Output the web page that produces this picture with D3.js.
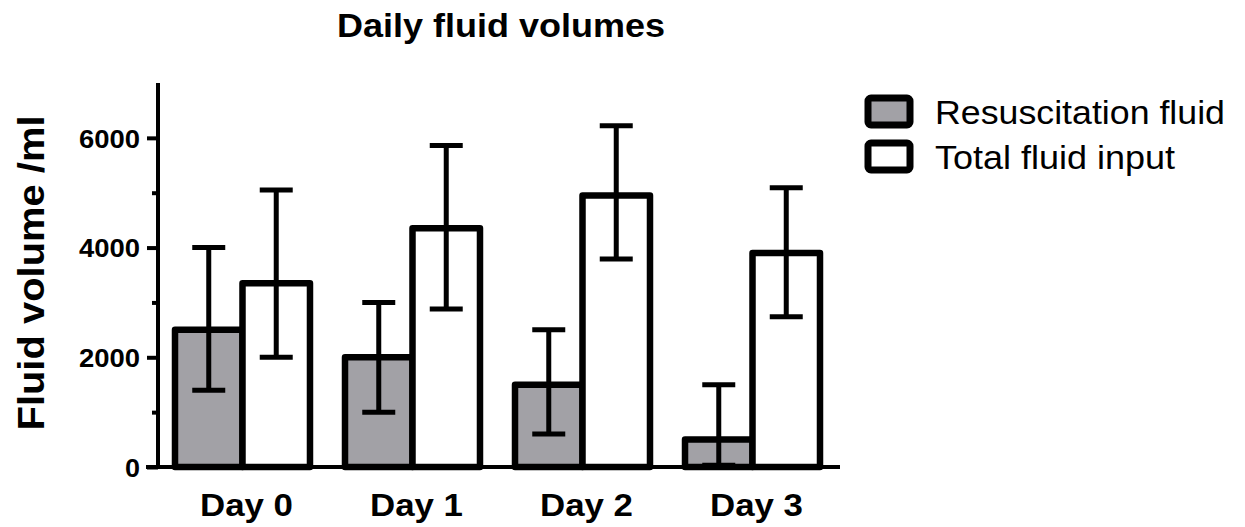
<!DOCTYPE html>
<html>
<head>
<meta charset="utf-8">
<script src="https://cdn.jsdelivr.net/npm/d3@7"></script>
<style>
  body { margin: 0; background: #fff; }
  text { font-family: "Liberation Sans", Arial, sans-serif; }
</style>
</head>
<body>
<svg></svg>
<script>
// data (values with error ranges)
var days = ["Day 0", "Day 1", "Day 2", "Day 3"];
var seriesNames = ["Resuscitation fluid", "Total fluid input"];
var resus = [2500, 2000, 1500, 500];
var resusLow = [1400, 1000, 600, 30];
var resusHigh = [4000, 3000, 2500, 1500];
var total = [3350, 4350, 4950, 3900];
var totalLow = [2000, 2880, 3790, 2740];
var totalHigh = [5050, 5860, 6220, 5090];
var yTicks = [0, 2000, 4000, 6000];

var svgWidth = 1245, svgHeight = 527;
var fills = ["#a2a1a6", "#ffffff"];

var svg = d3.select("svg")
  .attr("width", svgWidth)
  .attr("height", svgHeight);

var rows = [];
days.forEach(function (d, i) {
  rows.push({ day: d, s: 0, v: resus[i], lo: resusLow[i], hi: resusHigh[i] });
  rows.push({ day: d, s: 1, v: total[i], lo: totalLow[i], hi: totalHigh[i] });
});

var xScale = d3.scaleBand()
  .domain(days)
  .range([158, 837])
  .paddingInner(0.206)
  .paddingOuter(0.1);

var xInner = d3.scaleBand()
  .domain([0, 1])
  .range([0, xScale.bandwidth()]);

var yScale = d3.scaleLinear()
  .domain([0, 7000])
  .range([467, 83]);

// bars
svg.selectAll("rect.bar")
  .data(rows)
  .enter()
  .append("rect")
  .attr("class", "bar")
  .attr("x", function (d) { return xScale(d.day) + xInner(d.s); })
  .attr("y", function (d) { return yScale(d.v); })
  .attr("width", xInner.bandwidth())
  .attr("height", function (d) { return yScale(0) - yScale(d.v); })
  .attr("fill", function (d) { return fills[d.s]; })
  .attr("stroke", "#000")
  .attr("stroke-width", 6.5)
  .attr("stroke-linejoin", "round");

// error bars
var capW = 33;
var err = svg.selectAll("g.err")
  .data(rows)
  .enter()
  .append("g")
  .attr("class", "err")
  .attr("stroke", "#000")
  .attr("stroke-width", 5);

function cx(d) { return xScale(d.day) + xInner(d.s) + xInner.bandwidth() / 2; }

err.append("line")
  .attr("x1", cx).attr("x2", cx)
  .attr("y1", function (d) { return yScale(d.lo); })
  .attr("y2", function (d) { return yScale(d.hi); });
err.append("line")
  .attr("x1", function (d) { return cx(d) - capW / 2; })
  .attr("x2", function (d) { return cx(d) + capW / 2; })
  .attr("y1", function (d) { return yScale(d.hi); })
  .attr("y2", function (d) { return yScale(d.hi); });
err.append("line")
  .attr("x1", function (d) { return cx(d) - capW / 2; })
  .attr("x2", function (d) { return cx(d) + capW / 2; })
  .attr("y1", function (d) { return yScale(d.lo); })
  .attr("y2", function (d) { return yScale(d.lo); });

// y axis: minor ticks every 1000, labelled ticks every 2000
var yAxisG = svg.append("g").attr("transform", "translate(158,0)");
yAxisG.call(d3.axisLeft(yScale).tickValues(d3.range(1000, 7000, 2000)).tickSize(6).tickFormat(""));
yAxisG.call(function (g) {
  g.append("g").call(d3.axisLeft(yScale).tickValues(yTicks).tickSize(11).tickPadding(7).tickFormat(d3.format("d")));
});
yAxisG.selectAll("path").remove();
yAxisG.selectAll("line").attr("stroke", "#000").attr("stroke-width", 4);
yAxisG.selectAll("text")
  .attr("fill", "#000")
  .attr("font-size", 26)
  .attr("font-weight", "bold")
  .attr("font-family", "Liberation Sans, Arial, sans-serif")
  .attr("dy", "0.36em")
  .attr("textLength", function (d) { return d === 0 ? 15 : 61; })
  .attr("lengthAdjust", "spacingAndGlyphs");
yAxisG.append("line")
  .attr("x1", 0).attr("x2", 0)
  .attr("y1", yScale(7000)).attr("y2", yScale(0) + 2)
  .attr("stroke", "#000").attr("stroke-width", 4);

// x axis line + labels
svg.append("line")
  .attr("x1", 146).attr("x2", 840)
  .attr("y1", yScale(0)).attr("y2", yScale(0))
  .attr("stroke", "#000").attr("stroke-width", 4);

svg.selectAll("text.day")
  .data(days)
  .enter()
  .append("text")
  .attr("class", "day")
  .attr("x", function (d) { return xScale(d) + xScale.bandwidth() / 2 + 4; })
  .attr("y", 516)
  .attr("text-anchor", "middle")
  .attr("font-size", 32)
  .attr("font-weight", "bold")
  .attr("textLength", 93)
  .attr("lengthAdjust", "spacingAndGlyphs")
  .text(function (d) { return d; });

// titles
svg.append("text")
  .attr("x", 501)
  .attr("y", 37)
  .attr("text-anchor", "middle")
  .attr("font-size", 33)
  .attr("font-weight", "bold")
  .attr("textLength", 328)
  .attr("lengthAdjust", "spacingAndGlyphs")
  .text("Daily fluid volumes");

svg.append("text")
  .attr("transform", "translate(44,273) rotate(-90)")
  .attr("text-anchor", "middle")
  .attr("font-size", 37)
  .attr("font-weight", "bold")
  .attr("textLength", 315)
  .attr("lengthAdjust", "spacingAndGlyphs")
  .text("Fluid volume /ml");

// legend
var legend = svg.selectAll("g.legend")
  .data(seriesNames)
  .enter()
  .append("g")
  .attr("class", "legend")
  .attr("transform", function (d, i) { return "translate(868," + (98 + i * 45) + ")"; });

legend.append("rect")
  .attr("width", 42)
  .attr("height", 27)
  .attr("rx", 3)
  .attr("fill", function (d, i) { return fills[i]; })
  .attr("stroke", "#000")
  .attr("stroke-width", 7);

legend.append("text")
  .attr("x", 67)
  .attr("y", 26)
  .attr("font-size", 34)
  .attr("textLength", function (d, i) { return i === 0 ? 290 : 240; })
  .attr("lengthAdjust", "spacingAndGlyphs")
  .text(function (d) { return d; });
</script>
</body>
</html>
